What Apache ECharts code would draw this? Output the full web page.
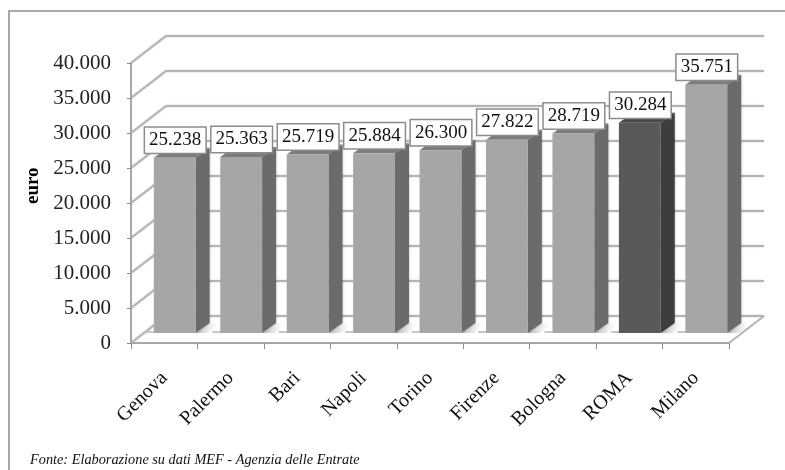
<!DOCTYPE html>
<html><head><meta charset="utf-8">
<style>html,body{margin:0;padding:0;background:#fff}#c{width:785px;height:470px}</style>
<script src="https://cdn.jsdelivr.net/npm/echarts@6/dist/echarts.min.js"></script>
</head><body><div id="c"></div>
<script>
const categories = ['Genova','Palermo','Bari','Napoli','Torino','Firenze','Bologna','ROMA','Milano'];
const values = [25238,25363,25719,25884,26300,27822,28719,30284,35751];
const yTicks = [0,5000,10000,15000,20000,25000,30000,35000,40000];
const highlighted = 'ROMA';
const source = 'Fonte: Elaborazione su dati MEF - Agenzia delle Entrate';
const axisName = 'euro';

const SERIF = '"Liberation Serif","Times New Roman",serif';
const fmt = v => String(v).replace(/\B(?=(\d{3})+$)/g, '.');
const WALL = [35, -27], BAR_D = [14, -10], BAR_O = [13, -10], DEPTH_SCALE = 0.992;
const LINE = '#b4b4b4';
const barTop = (top, base) => base + BAR_O[1] - (base - top) * DEPTH_SCALE;

const chart = echarts.init(document.getElementById('c'), null, {renderer:'canvas'});
chart.setOption({
  animation:false,
  backgroundColor:'#fff',
  grid:{left:131, right:56, top:63, bottom:127},
  graphic:[
    {type:'polyline', silent:true, z:-10, shape:{points:[[9,470],[9,11],[785,11]]}, style:{fill:null,stroke:'#8c8c8c',lineWidth:1.5}},
    {type:'text', x:24, y:204, rotation:Math.PI/2, style:{text:axisName, font:'bold 19px '+SERIF, fill:'#000'}, z:10},
    {type:'text', x:30, y:453, style:{text:source, font:'italic 14.3px '+SERIF, fill:'#111'}, z:10}
  ],
  xAxis:{type:'category', data:categories, boundaryGap:true,
    axisLine:{show:true, lineStyle:{color:'#a8a8a8', width:2}},
    axisTick:{show:true, length:6, alignWithLabel:false, lineStyle:{color:'#8c8c8c', width:1}},
    axisLabel:{rotate:45, interval:0, margin:32, fontFamily:'Liberation Serif', fontSize:20, color:'#111'}
  },
  yAxis:{type:'value', min:0, max:40000, interval:5000,
    splitLine:{show:false},
    axisLine:{show:true, lineStyle:{color:'#a8a8a8', width:2}},
    axisTick:{show:true, length:4, lineStyle:{color:'#8c8c8c', width:1}},
    axisLabel:{formatter:v=>fmt(v), margin:20, fontFamily:'Liberation Serif', fontSize:21, color:'#222', padding:[5,0,0,0]}
  },
  series:[
    {type:'custom', name:'wall', z:1, silent:true, clip:false,
     data:yTicks.map(v=>[0,v]),
     renderItem(p,api){
       const g=p.coordSys, y=api.coord([0,api.value(1)])[1], x0=g.x;
       const x1=g.x+g.width;
       const kids=[
         {type:'polyline',shape:{points:[[x0,y],[x0+WALL[0],y+WALL[1]],[x1+WALL[0],y+WALL[1]]]},style:{fill:null,stroke:LINE,lineWidth:2,shadowBlur:2,shadowColor:'rgba(0,0,0,.2)'}}
       ];
       if(api.value(1)===0) kids.push({type:'line',shape:{x1:x1,y1:y,x2:x1+WALL[0],y2:y+WALL[1]},style:{stroke:LINE,lineWidth:2}});
       return {type:'group',children:kids};
     }},
    {type:'custom', name:'euro', z:3, silent:true, clip:false,
     encode:{x:0,y:1},
     data:values.map((v,i)=>[i,v]),
     renderItem(p,api){
       const i=api.value(0), top=api.coord([i,api.value(1)]), base=api.coord([i,0]);
       const band=api.size([1,0])[0], w=band*0.63, cx=top[0]+BAR_O[0]-2.5;
       const xa=cx-w/2, xb=cx+w/2, yb=base[1]+BAR_O[1], yt=barTop(top[1],base[1]);
       const hi=categories[i]===highlighted;
       const front=hi?'#595959':'#a6a6a6', side=hi?'#3d3d3d':'#6b6b6b', cap=hi?'#474747':'#7d7d7d';
       const shade=new echarts.graphic.LinearGradient(0,0,1,0,[{offset:0,color:'#b0b0b0'},{offset:1,color:'rgba(255,255,255,0)'}]);
       return {type:'group',children:[
         {type:'polygon',shape:{points:[[xb,yb],[xb+BAR_D[0],yb+BAR_D[1]],[xb+BAR_D[0]+12,yb+BAR_D[1]],[xb+12,yb]]},style:{fill:shade}},
         {type:'rect',shape:{x:xa-8,y:yb-2,width:8,height:2},style:{fill:'#c8c8c8'}},
         {type:'polygon',shape:{points:[[xb,yb],[xb+BAR_D[0],yb+BAR_D[1]],[xb+BAR_D[0],yt+BAR_D[1]],[xb,yt]]},style:{fill:side,shadowBlur:3,shadowColor:'rgba(0,0,0,.25)'}},
         {type:'polygon',shape:{points:[[xa,yt],[xb,yt],[xb+BAR_D[0],yt+BAR_D[1]],[xa+BAR_D[0],yt+BAR_D[1]]]},style:{fill:cap}},
         {type:'rect',shape:{x:xa,y:yt,width:w,height:yb-yt},style:{fill:front}}
       ]};
     }},
    {type:'custom', name:'labels', z:5, silent:true, clip:false,
     data:values.map((v,i)=>[i,v]),
     renderItem(p,api){
       const i=api.value(0), top=api.coord([i,api.value(1)]), base=api.coord([i,0]);
       const cx=top[0]+BAR_O[0]-2;
       return {type:'text',style:{x:cx,y:barTop(top[1],base[1])-5,text:fmt(api.value(1)),align:'center',verticalAlign:'bottom',
         font:'19px '+SERIF,fill:'#111',backgroundColor:'#fff',borderColor:'#8c8c8c',borderWidth:1.5,padding:[3,4,3,4]}};
     }}
  ]
});
</script></body></html>
